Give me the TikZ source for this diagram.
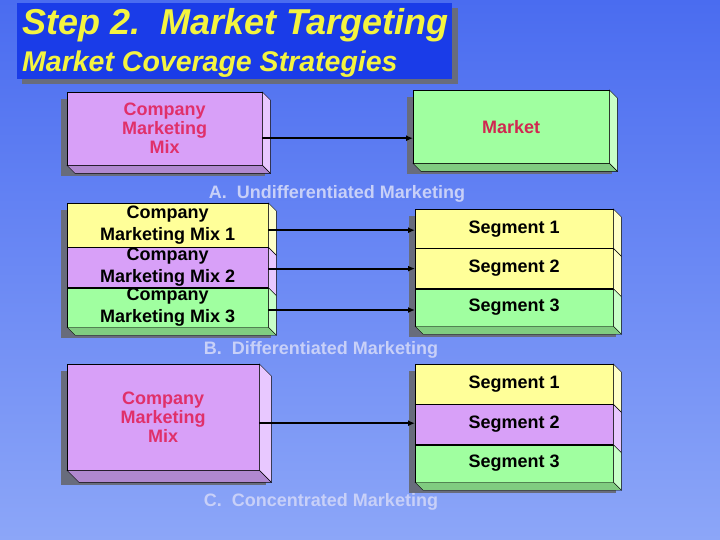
\documentclass[tikz,border=0pt]{standalone}
\usepackage{fontspec}
\setmainfont{Liberation Sans}
\usetikzlibrary{arrows.meta,positioning,calc}

\definecolor{bgtop}{HTML}{4A6CF0}
\definecolor{bgbot}{HTML}{8CA6F8}
\definecolor{titleblue}{HTML}{1A3CE8}
\definecolor{titleyellow}{HTML}{F4F440}
\definecolor{mixpink}{HTML}{E0306A}
\definecolor{marketred}{HTML}{D02850}
\definecolor{lilac}{HTML}{D8A0F8}
\definecolor{lilacside}{HTML}{E8C8FF}
\definecolor{lilacbot}{HTML}{B088D0}
\definecolor{mint}{HTML}{A0FFA0}
\definecolor{mintside}{HTML}{C8FFC8}
\definecolor{mintbot}{HTML}{80CC80}
\definecolor{lemon}{HTML}{FFFF99}
\definecolor{lemonside}{HTML}{FFFFC8}
\definecolor{lemonbot}{HTML}{D0D080}
\definecolor{shadowgray}{HTML}{686C7C}
\definecolor{labelgray}{HTML}{C8D0F8}

\pgfdeclarelayer{back}
\pgfsetlayers{back,main}

% side face, bottom face and drop shadow of a block
\newcommand\sideface[3][8]{\filldraw[fill=#3] (#2.north east) -- ++(#1,#1) -- ([shift={(#1,#1)}]#2.south east) -- (#2.south east) -- cycle;}
\newcommand\bottomface[3][8]{\filldraw[fill=#3] (#2.south west) -- ++(#1,#1) -- ([shift={(#1,#1)}]#2.south east) -- (#2.south east) -- cycle;}
\newcommand\blockshadow[3][8]{\begin{pgfonlayer}{back}\fill[shadowgray] ([shift={(-6,7)}]#2.north west) rectangle ([shift={(#1-5,#1+3)}]#3.south east);\end{pgfonlayer}}

\begin{document}
\begin{tikzpicture}[x=1pt,y=-1pt,line width=1.8pt,
    block/.style={draw=black, inner sep=0pt, anchor=north west, align=center,
      font=\bfseries\fontsize{18}{22}\selectfont},
    conn/.style={-{Latex[length=7pt,width=6pt]}, line width=2pt},
    seclabel/.style={text=labelgray, font=\bfseries\fontsize{18}{22}\selectfont}]

    % background
    \useasboundingbox (0,0) rectangle (720,540);
    \begin{pgfonlayer}{back}
        \shade[top color=bgtop, bottom color=bgbot] (0,0) rectangle (720,540);
    \end{pgfonlayer}

    % title
    \fill[shadowgray] (22,8) rectangle (458,84);
    \node[fill=titleblue, inner sep=0pt, minimum width=435, minimum height=76, anchor=north west] (titlebox) at (17,3) {};
    \node[anchor=base west, inner sep=0pt, text=titleyellow, font=\bfseries\itshape\fontsize{36}{38}\selectfont] (title) at (22,35) {Step 2.\ \ Market Targeting};
    \node[anchor=base west, inner sep=0pt, text=titleyellow, font=\bfseries\itshape\fontsize{28.5}{30}\selectfont] (subtitle) at (22,72) {Market Coverage Strategies};

    % A. one mix, whole market
    \node[block, fill=lilac, text=mixpink, minimum width=195, minimum height=73] (mixA) at (67,92) {Company\\[-3pt]Marketing\\[-3pt]Mix};
    \node[block, fill=mint, text=marketred, minimum width=196, minimum height=73] (market) at (413,90) {Market};
    \blockshadow{mixA}{mixA}
    \blockshadow{market}{market}
    \sideface{mixA}{lilacside}
    \bottomface{mixA}{lilacbot}
    \sideface{market}{mintside}
    \bottomface{market}{mintbot}
    \draw[conn] ([yshift=-9.5pt]mixA.east) -- ([yshift=-9.5pt]mixA.east -| market.west);
    \node[seclabel] (labA) at (337,194) {A.\ \ Undifferentiated Marketing};

    % B. one mix per segment
    \node[block, fill=lemon, minimum width=201, minimum height=44] (mixb1) at (67,203) {Company\\Marketing Mix 1};
    \node[block, fill=lilac, minimum width=201, minimum height=40, below=0pt of mixb1.south west, anchor=north west] (mixb2) {Company\\Marketing Mix 2};
    \node[block, fill=mint, minimum width=201, minimum height=39, below=0pt of mixb2.south west, anchor=north west] (mixb3) {Company\\Marketing Mix 3};
    \node[block, fill=lemon, minimum width=198, minimum height=39] (segb1) at (415,209) {Segment 1};
    \node[block, fill=lemon, minimum width=198, minimum height=40, below=0pt of segb1.south west, anchor=north west] (segb2) {Segment 2};
    \node[block, fill=mint, minimum width=198, minimum height=37, below=0pt of segb2.south west, anchor=north west] (segb3) {Segment 3};
    \blockshadow{mixb1}{mixb3}
    \blockshadow{segb1}{segb3}
    \sideface{mixb1}{lemonside}
    \sideface{mixb2}{lilacside}
    \sideface{mixb3}{mintside}
    \bottomface{mixb3}{mintbot}
    \sideface{segb1}{lemonside}
    \sideface{segb2}{lemonside}
    \sideface{segb3}{mintside}
    \bottomface{segb3}{mintbot}
    \draw[conn] ([yshift=-5pt]mixb1.east) -- ([yshift=-5pt]mixb1.east -| segb1.west);
    \draw[conn] ([yshift=-1pt]mixb2.east) -- ([yshift=-1pt]mixb2.east -| segb2.west);
    \draw[conn] ([yshift=-2.5pt]mixb3.east) -- ([yshift=-2.5pt]mixb3.east -| segb3.west);
    \node[seclabel] (labB) at (321,350) {B.\ \ Differentiated Marketing};

    % C. one mix, one segment
    \node[block, fill=lilac, text=mixpink, minimum width=192, minimum height=106] (mixC) at (67,364) {Company\\[-3pt]Marketing\\[-3pt]Mix};
    \node[block, fill=lemon, minimum width=198, minimum height=40] (segc1) at (415,364) {Segment 1};
    \node[block, fill=lilac, minimum width=198, minimum height=40, below=0pt of segc1.south west, anchor=north west] (segc2) {Segment 2};
    \node[block, fill=mint, minimum width=198, minimum height=37, below=0pt of segc2.south west, anchor=north west] (segc3) {Segment 3};
    \blockshadow[12]{mixC}{mixC}
    \blockshadow{segc1}{segc3}
    \sideface[12]{mixC}{lilacside}
    \bottomface[12]{mixC}{lilacbot}
    \sideface{segc1}{lemonside}
    \sideface{segc2}{lilacside}
    \sideface{segc3}{mintside}
    \bottomface{segc3}{mintbot}
    \draw[conn] ([yshift=-6pt]mixC.east) -- ([yshift=-6pt]mixC.east -| segc2.west);
    \node[seclabel] (labC) at (321,502) {C.\ \ Concentrated Marketing};

\end{tikzpicture}
\end{document}
